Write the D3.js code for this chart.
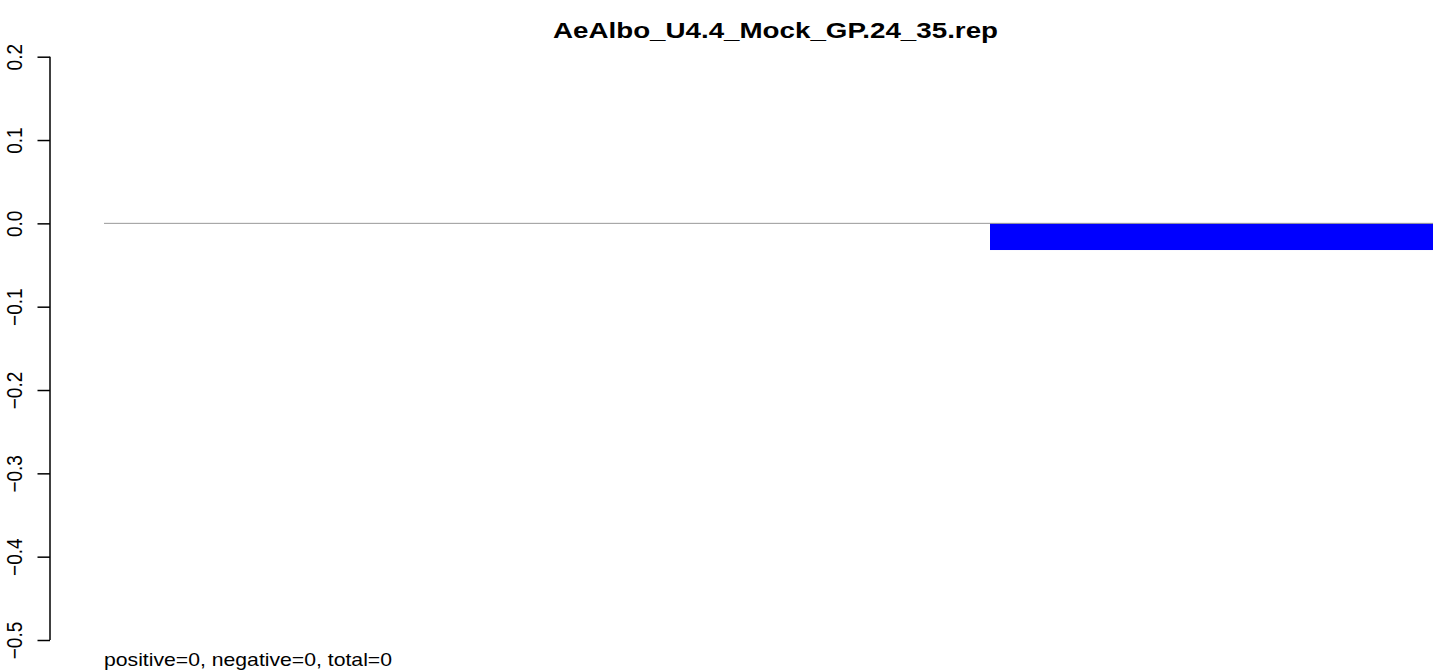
<!DOCTYPE html>
<html><head><meta charset="utf-8">
<script src="https://cdn.jsdelivr.net/npm/d3@7"></script>
<style>body{margin:0;background:#fff}svg{display:block}</style>
</head><body>
<script>
const bins = ["b1", "b2", "b3"];
const values = [0, 0, -0.032];
const yTicks = [-0.5, -0.4, -0.3, -0.2, -0.1, 0.0, 0.1, 0.2];
const titleText = "AeAlbo_U4.4_Mock_GP.24_35.rep";
const footText = "positive=0, negative=0, total=0";

const W = 1447, H = 671;
const svg = d3.select("body").append("svg").attr("width", W).attr("height", H)
  .style("font-family", "'Liberation Sans', Arial, sans-serif");

const y = d3.scaleLinear().domain([-0.5, 0.2]).range([640, 56.7]);
const x = d3.scaleBand().domain(bins).range([104, 1433]).paddingInner(0).paddingOuter(0);

// bars
svg.selectAll("rect.bar").data(values).join("rect")
  .attr("class", "bar")
  .attr("x", (d, i) => x(bins[i]))
  .attr("width", x.bandwidth())
  .attr("y", d => y(Math.max(0, d)))
  .attr("height", d => Math.abs(y(d) - y(0)))
  .attr("fill", "#0000ff");

// zero line
svg.append("line").attr("x1", x.range()[0]).attr("x2", x.range()[1])
  .attr("y1", y(0)).attr("y2", y(0)).attr("stroke", "#999").attr("stroke-width", 1);

// y axis
const axis = d3.axisLeft(y).tickValues(yTicks).tickSize(12.5).tickPadding(0)
  .tickFormat(d => d3.format(".1f")(d).replace("-", "\u2212"));
const g = svg.append("g").attr("transform", "translate(50,0)").call(axis);
g.select(".domain").attr("stroke", "#000").attr("stroke-width", 1.5)
  .attr("d", `M0,${y(0.2)}V${y(-0.5)}`);
g.selectAll(".tick line").attr("stroke", "#000").attr("stroke-width", 1.5);
g.selectAll(".tick text").attr("fill", "#000").style("font-size", "19px")
  .attr("x", 0).attr("y", 0).attr("dy", null)
  .attr("text-anchor", "middle")
  .attr("transform", "translate(-28.3,0) scale(1.18,1) rotate(-90)");

// title
svg.append("text").attr("x", 553).attr("y", 38.3)
  .attr("textLength", 445).attr("lengthAdjust", "spacingAndGlyphs")
  .style("font-size", "21.5px").style("font-weight", "bold").text(titleText);

// footer
svg.append("text").attr("x", 104).attr("y", 665.5)
  .attr("textLength", 288).attr("lengthAdjust", "spacingAndGlyphs")
  .style("font-size", "18.5px").text(footText);
</script>
</body></html>
